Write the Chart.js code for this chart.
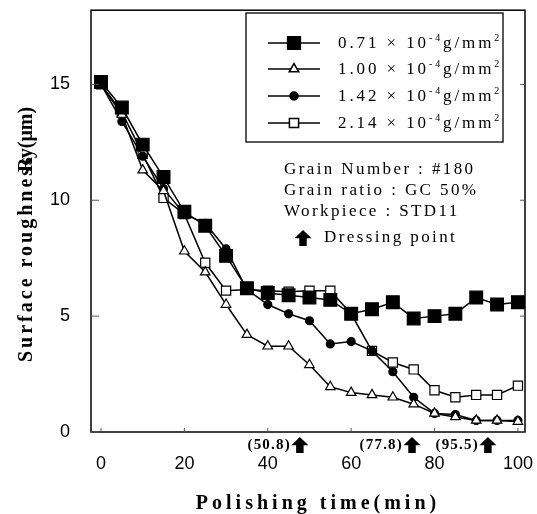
<!DOCTYPE html>
<html>
<head>
<meta charset="utf-8">
<script src="https://cdn.jsdelivr.net/npm/chart.js@4.4.0/dist/chart.umd.min.js"></script>
<style>
  html, body { margin: 0; padding: 0; background: #fff; }
  #wrap { width: 537px; height: 514px; }
</style>
</head>
<body>
<div id="wrap"><canvas id="c" width="537" height="514"></canvas></div>
<script>
// polishing time (min)
const times = [0, 5, 10, 15, 20, 25, 30, 35, 40, 45, 50, 55, 60, 65, 70, 75, 80, 85, 90, 95, 100];

// surface roughness Ry (um), one list per slurry density
const rough071 = [15.1, 14.0, 12.4, 11.0, 9.5, 8.9, 7.6, 6.2, 6.0, 5.9, 5.8, 5.7, 5.1, 5.3, 5.6, 4.9, 5.0, 5.1, 5.8, 5.5, 5.6];
const rough100 = [15.0, 13.7, 11.3, 10.4, 7.8, 6.9, 5.5, 4.2, 3.7, 3.7, 2.9, 1.95, 1.7, 1.6, 1.5, 1.2, 0.8, 0.65, 0.5, 0.5, 0.45];
const rough142 = [15.0, 13.4, 11.9, 10.5, 9.4, 9.0, 7.9, 6.15, 5.5, 5.1, 4.8, 3.8, 3.9, 3.5, 2.6, 1.5, 0.8, 0.75, 0.5, 0.5, 0.5];
const rough214 = [15.0, 13.8, 12.0, 10.1, 9.4, 7.3, 6.1, 6.15, 6.1, 6.05, 6.1, 6.1, 5.1, 3.5, 3.0, 2.7, 1.8, 1.5, 1.6, 1.6, 2.0];

const seriesNames = ['0.71', '1.00', '1.42', '2.14'];

const xTicks = [0, 20, 40, 60, 80, 100];
const yTicks = [0, 5, 10, 15];

// dressing points (arrow position as drawn, label as printed)
const dressX = [47.7, 74.6, 92.8];
const dressLabels = ['(50.8)', '(77.8)', '(95.5)'];

const notes = ['Grain Number : #180', 'Grain ratio : GC 50%', 'Workpiece : STD11'];

const SERIF = '"Liberation Serif", "Times New Roman", serif';
const SANS = '"Liberation Sans", Arial, sans-serif';

const styles = [
  { pointStyle: 'rect', radius: 9, bg: '#000' },
  { pointStyle: 'triangle', radius: 5.5, bg: '#fff' },
  { pointStyle: 'circle', radius: 4, bg: '#000' },
  { pointStyle: 'rect', radius: 6.5, bg: '#fff' },
];

const allSeries = [rough071, rough100, rough142, rough214];

const datasets = allSeries.map((vals, i) => ({
  label: seriesNames[i],
  data: times.map((t, k) => ({ x: t, y: vals[k] })),
  borderColor: '#000',
  borderWidth: 1.5,
  pointStyle: styles[i].pointStyle,
  pointRadius: styles[i].radius,
  pointBackgroundColor: styles[i].bg,
  pointBorderColor: '#000',
  pointBorderWidth: 1.2,
  tension: 0,
  clip: false,
}));

function drawUpArrow(ctx, cx, top, w, h) {
  ctx.beginPath();
  ctx.moveTo(cx, top);
  ctx.lineTo(cx + w / 2, top + h * 0.52);
  ctx.lineTo(cx + w * 0.22, top + h * 0.52);
  ctx.lineTo(cx + w * 0.22, top + h);
  ctx.lineTo(cx - w * 0.22, top + h);
  ctx.lineTo(cx - w * 0.22, top + h * 0.52);
  ctx.lineTo(cx - w / 2, top + h * 0.52);
  ctx.closePath();
  ctx.fillStyle = '#000';
  ctx.fill();
}

// draw a run of text pieces (used for superscripts)
function drawPieces(ctx, x, y, pieces, spacing) {
  ctx.letterSpacing = spacing + 'px';
  for (const p of pieces) {
    ctx.font = p.size + 'px ' + SERIF;
    ctx.fillText(p.t, x, y + (p.dy || 0));
    x += ctx.measureText(p.t).width;
  }
  ctx.letterSpacing = '0px';
}

const noPad = (s) => {
  s.paddingTop = 0; s.paddingBottom = 0; s.paddingLeft = 0; s.paddingRight = 0;
};

const overlay = {
  id: 'overlay',
  afterDatasetsDraw(chart) {
    const { ctx, chartArea: a, scales } = chart;
    const xs = scales.x, ys = scales.y;
    ctx.save();

    // frame
    ctx.strokeStyle = '#000';
    ctx.lineWidth = 1.5;
    ctx.strokeRect(a.left, a.top, a.right - a.left, a.bottom - a.top);

    // inward ticks
    ctx.lineWidth = 1;
    ctx.strokeStyle = '#555';
    ctx.beginPath();
    for (const v of yTicks) {
      const py = ys.getPixelForValue(v);
      ctx.moveTo(a.left, py); ctx.lineTo(a.left + 8, py);
      ctx.moveTo(a.right, py); ctx.lineTo(a.right - 5, py);
    }
    for (const v of xTicks) {
      const px = xs.getPixelForValue(v);
      ctx.moveTo(px, a.bottom); ctx.lineTo(px, a.bottom - 4);
    }
    ctx.stroke();

    // legend box
    ctx.fillStyle = '#fff';
    ctx.fillRect(246, 13, 257, 129);
    ctx.strokeStyle = '#000';
    ctx.lineWidth = 1.3;
    ctx.strokeRect(246, 13, 257, 129);

    const rowY = [43, 69, 96, 123];
    seriesNames.forEach((name, i) => {
      const y = rowY[i];
      ctx.strokeStyle = '#000';
      ctx.lineWidth = 1.5;
      ctx.beginPath();
      ctx.moveTo(268, y); ctx.lineTo(320, y);
      ctx.stroke();
      ctx.fillStyle = styles[i].bg;
      Chart.helpers.drawPoint(ctx, {
        pointStyle: styles[i].pointStyle,
        radius: styles[i].radius,
        borderWidth: 1.2,
      }, 294, y);
      ctx.fillStyle = '#000';
      ctx.textBaseline = 'middle';
      ctx.textAlign = 'left';
      drawPieces(ctx, 338, y + 1, [
        { t: name + ' \u00d7 10', size: 17 },
        { t: '-4', size: 10, dy: -6 },
        { t: 'g/mm', size: 17 },
        { t: '2', size: 10, dy: -6 },
      ], 2.9);
    });

    // notes
    ctx.fillStyle = '#000';
    ctx.textBaseline = 'middle';
    ctx.textAlign = 'left';
    ctx.font = '17px ' + SERIF;
    ctx.letterSpacing = '2.4px';
    notes.forEach((t, i) => ctx.fillText(t, 284, 170 + i * 21));
    ctx.fillText('Dressing point', 324, 238);
    ctx.letterSpacing = '0px';
    drawUpArrow(ctx, 303, 230, 17, 16);

    // dressing arrows below axis
    ctx.font = 'bold 15px ' + SERIF;
    ctx.letterSpacing = '1.2px';
    ctx.textAlign = 'right';
    dressX.forEach((v, i) => {
      const px = xs.getPixelForValue(v);
      drawUpArrow(ctx, px, 437, 17, 16);
      ctx.fillText(dressLabels[i], px - 9, 445);
    });
    ctx.letterSpacing = '0px';

    // axis titles
    ctx.textAlign = 'center';
    ctx.font = 'bold 20px ' + SERIF;
    ctx.letterSpacing = '4px';
    ctx.fillText('Polishing time(min)', 318, 504);

    ctx.save();
    ctx.translate(27, 0);
    ctx.rotate(-Math.PI / 2);
    ctx.textAlign = 'left';
    ctx.letterSpacing = '3px';
    ctx.fillText('Surface roughness', -362, 0);
    ctx.letterSpacing = '0px';
    ctx.fillText('Ry(\u03bcm)', -172, 0);
    ctx.restore();

    ctx.letterSpacing = '0px';
    ctx.restore();
  },
};

new Chart(document.getElementById('c').getContext('2d'), {
  type: 'line',
  data: { datasets },
  options: {
    responsive: false,
    animation: false,
    layout: { padding: { top: 7, right: 12, left: 0, bottom: 0 } },
    plugins: { legend: { display: false }, tooltip: { enabled: false } },
    scales: {
      x: {
        type: 'linear',
        min: -2.4,
        max: 101.7,
        afterBuildTicks: (s) => { s.ticks = xTicks.map((v) => ({ value: v })); },
        afterFit: (s) => { s.height = 82; noPad(s); },
        grid: { display: false, drawTicks: false },
        border: { display: false },
        ticks: { color: '#000', padding: 21, font: { family: SANS, size: 18 } },
      },
      y: {
        min: 0,
        max: 18.2,
        afterBuildTicks: (s) => { s.ticks = yTicks.map((v) => ({ value: v })); },
        afterFit: (s) => { s.width = 91; noPad(s); },
        grid: { display: false, drawTicks: false },
        border: { display: false },
        ticks: { color: '#000', padding: 21, font: { family: SANS, size: 18 } },
      },
    },
  },
  plugins: [overlay],
});
</script>
</body>
</html>
